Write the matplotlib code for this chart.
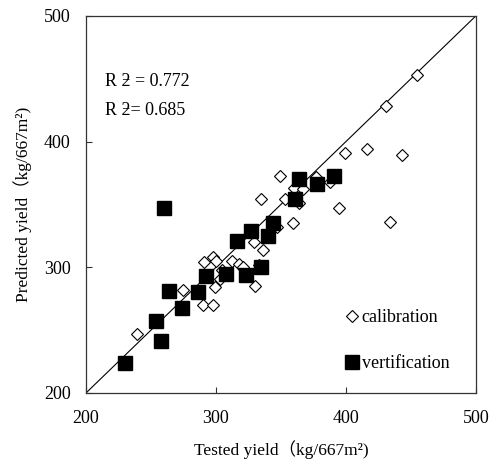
"""Tested vs predicted yield scatter (calibration / verification)."""
import matplotlib
matplotlib.use("Agg")
import matplotlib.pyplot as plt

SERIF = ["Liberation Serif", "DejaVu Serif", "Noto Sans CJK SC"]

cal_tested = [455, 431, 399, 416, 443, 349, 377, 388, 360, 367,
              335, 353, 364, 395, 434, 359, 347, 329, 336, 298,
              300, 291, 312, 318, 321, 333, 305, 299, 275, 330,
              290, 298, 239, 303]
cal_pred = [453, 428, 391, 394, 389, 373, 372, 368, 363, 362,
            354, 354, 351, 347, 336, 335, 332, 320, 314, 308,
            305, 304, 305, 303, 300, 302, 298, 284, 282, 285,
            270, 270, 247, 291]

ver_tested = [230, 254, 258, 264, 274, 286, 292, 308, 323, 335,
              316, 327, 340, 344, 361, 364, 378, 391, 260]
ver_pred = [224, 257, 241, 281, 268, 280, 293, 295, 294, 300,
            321, 329, 325, 335, 354, 370, 366, 373, 347]

r2_cal = 0.772
r2_ver = 0.685

plt.rcParams["font.family"] = SERIF

fig = plt.figure(figsize=(4.9, 4.63), dpi=100)
ax = fig.add_axes([0.1755, 0.1512, 0.7955, 0.8143])

ax.plot([200, 500], [200, 500], color="black", linewidth=0.8)
ax.plot(cal_tested, cal_pred, linestyle="none", marker="D", markersize=6,
        markerfacecolor="white", markeredgecolor="black", markeredgewidth=0.8,
        label="calibration")
ax.plot(ver_tested, ver_pred, linestyle="none", marker="s", markersize=9.5,
        markerfacecolor="black", markeredgecolor="black", label="vertification")

ax.set_xlim(200, 500)
ax.set_ylim(200, 500)
ax.set_xticks([200, 300, 400, 500])
ax.set_yticks([200, 300, 400, 500])
ax.tick_params(direction="in", labelsize=13, length=4, width=0.8, colors="#333333",
               labelcolor="black")
ax.tick_params(axis="x", pad=12.5)
ax.tick_params(axis="y", pad=11)
for sp in ax.spines.values():
    sp.set_color("#333333")
    sp.set_linewidth(0.9)

ax.set_xlabel("Tested yield（kg/667m²)", fontsize=12.5, labelpad=9)
ax.set_ylabel("Predicted yield（kg/667m²)", fontsize=12.5, labelpad=8.5)

ax.text(215, 447.5, "R \u01bb = %.3f" % r2_cal, fontsize=13, va="center")
ax.text(215, 425, "R \u01bb= %.3f" % r2_ver, fontsize=13, va="center")

ax.legend(loc="upper left", bbox_to_anchor=(0.668, 0.222), frameon=False,
          fontsize=13, handlelength=0.6, handletextpad=0.25, labelspacing=1.6,
          borderaxespad=0, borderpad=0)

fig.savefig("out.png", dpi=100)
plt.close(fig)
